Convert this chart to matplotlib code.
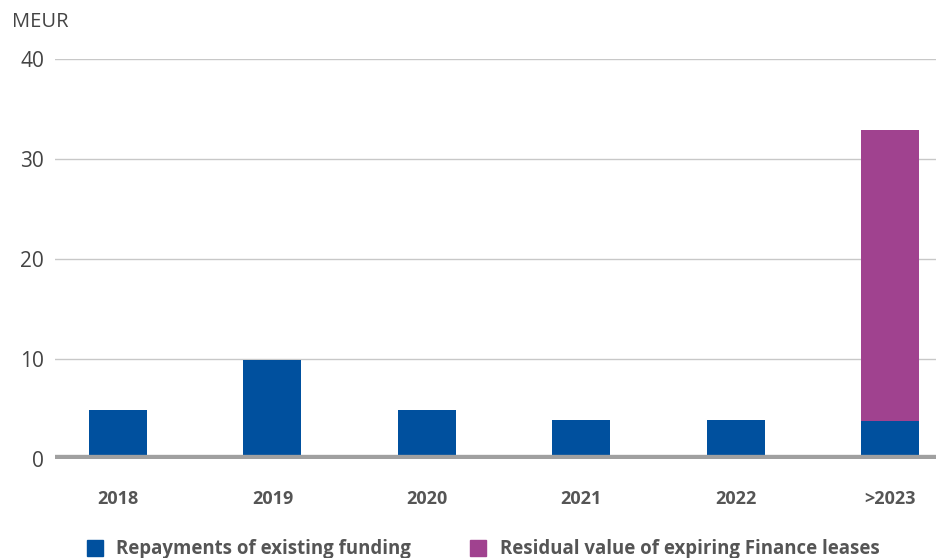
import matplotlib.pyplot as plt
import numpy as np

years = ["2018", "2019", "2020", "2021", "2022", ">2023"]
repayments = [4.9, 9.9, 4.9, 3.9, 3.9, 3.8]
residual = [0, 0, 0, 0, 0, 29.1]

blue = "#00509e"
purple = "#a0428f"
text_col = "#555555"
font = "Open Sans"

fig = plt.figure(figsize=(9.37, 5.58), dpi=100)
ax = fig.add_axes([55 / 937, 99 / 558, 882 / 937, 400 / 558])

x = np.arange(len(years))
ax.bar(x, repayments, width=0.376, color=blue, zorder=3)
ax.bar(x, residual, width=0.376, bottom=repayments, color=purple, zorder=3)

ax.set_xlim(-0.408, 5.304)
ax.set_ylim(0, 40)
ax.set_yticks([0, 10, 20, 30, 40])
ax.yaxis.grid(True, color="#c8c8c8", linewidth=1, zorder=0)
ax.axhline(0, color="#a0a0a0", linewidth=6, zorder=4)

for s in ax.spines.values():
    s.set_visible(False)
ax.tick_params(axis="both", length=0)
ax.tick_params(axis="y", pad=8)
ax.tick_params(axis="x", pad=22)
ax.set_xticks(x)
ax.set_xticklabels(years, fontsize=13, fontweight="bold", color=text_col, family=font)
for lbl in ax.get_yticklabels():
    lbl.set_fontsize(15)
    lbl.set_color("#444444")
    lbl.set_family(font)

fig.text(12 / 937, 1 - 22 / 558, "MEUR", fontsize=14.5, color="#444444",
         family=font, va="center")

# legend
fig.patches.append(plt.Rectangle((87 / 937, 1 - 556 / 558), 16 / 937, 16 / 558,
                                 transform=fig.transFigure, color=blue, figure=fig))
fig.text(116 / 937, 1 - 549 / 558, "Repayments of existing funding", fontsize=13.4,
         fontweight="bold", color=text_col, family=font, va="center")
fig.patches.append(plt.Rectangle((470 / 937, 1 - 556 / 558), 16 / 937, 16 / 558,
                                 transform=fig.transFigure, color=purple, figure=fig))
fig.text(500 / 937, 1 - 549 / 558, "Residual value of expiring Finance leases", fontsize=13.4,
         fontweight="bold", color=text_col, family=font, va="center")

fig.savefig("out.png", dpi=100)
